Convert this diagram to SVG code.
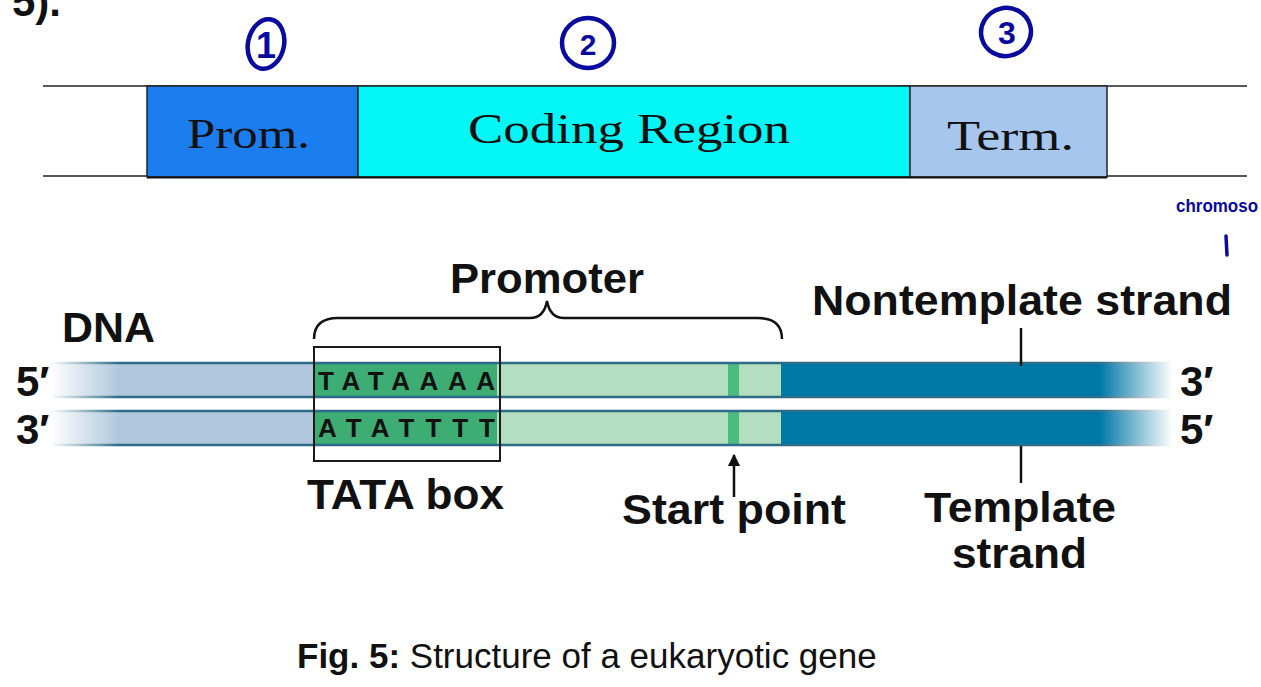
<svg xmlns="http://www.w3.org/2000/svg" width="1261" height="687" viewBox="0 0 1261 687">
<style>
.serif{font-family:"Liberation Serif","Times New Roman",serif;font-size:42px;fill:#111}
.lbl{font-family:"Liberation Sans",Arial,sans-serif;font-weight:bold;font-size:42px;fill:#111}
.seq{font-family:"Liberation Sans",Arial,sans-serif;font-weight:bold;font-size:26px;fill:#111}
.hand{fill:none;stroke:#0A0A9E;stroke-width:4.5}
.handt{font-family:"Liberation Sans",Arial,sans-serif;font-weight:bold;fill:#0A0A9E}
.conn{stroke:#111;stroke-width:2.5;fill:none}
.outline{stroke:#2C6C86;stroke-width:2.5}
</style>
<defs>
<linearGradient id="fade" gradientUnits="userSpaceOnUse" x1="0" y1="0" x2="1261" y2="0">
<stop offset="0.040" stop-color="#000"/>
<stop offset="0.095" stop-color="#fff"/>
<stop offset="0.872" stop-color="#fff"/>
<stop offset="0.930" stop-color="#000"/>
</linearGradient>
<mask id="fm" maskUnits="userSpaceOnUse" x="0" y="0" width="1261" height="687">
<rect x="0" y="0" width="1261" height="687" fill="url(#fade)"/>
</mask>
<marker id="ah" viewBox="0 0 10 10" refX="9" refY="5" markerWidth="5" markerHeight="5" orient="auto" markerUnits="strokeWidth">
<path d="M0,0 L10,5 L0,10 z" fill="#111"/>
</marker>
</defs>
<rect width="1261" height="687" fill="#fff"/>

<text class="lbl" x="12" y="16" font-size="40">5).</text>

<g id="gene-bar">
<line x1="43" y1="86" x2="1247" y2="86" stroke="#222" stroke-width="1.5"/>
<line x1="43" y1="176" x2="1247" y2="176" stroke="#222" stroke-width="1.5"/>
<g id="prom">
<rect x="147" y="86" width="211" height="91" fill="#1C7EEE" stroke="#222" stroke-width="1.5"/>
<text class="serif" x="187" y="148" textLength="123" lengthAdjust="spacingAndGlyphs">Prom.</text>
</g>
<g id="coding">
<rect x="358" y="86" width="552" height="91" fill="#05F6F6" stroke="#222" stroke-width="1.5"/>
<text class="serif" x="468" y="143" textLength="322" lengthAdjust="spacingAndGlyphs">Coding Region</text>
</g>
<g id="term">
<rect x="910" y="86" width="197" height="91" fill="#A6C6EE" stroke="#222" stroke-width="1.5"/>
<text class="serif" x="947" y="150" textLength="127" lengthAdjust="spacingAndGlyphs">Term.</text>
</g>
<line x1="147" y1="177.5" x2="1107" y2="177.5" stroke="#111" stroke-width="2"/>
</g>

<g id="annotations">
<g id="n1">
<ellipse class="hand" cx="266" cy="44" rx="18" ry="25" transform="rotate(12 266 44)"/>
<text class="handt" x="266" y="58" font-size="36" text-anchor="middle">1</text>
</g>
<g id="n2">
<ellipse class="hand" cx="588" cy="43" rx="26" ry="25"/>
<text class="handt" x="588" y="55" font-size="30" text-anchor="middle">2</text>
</g>
<g id="n3">
<ellipse class="hand" cx="1006" cy="32" rx="25" ry="24" transform="rotate(-15 1006 32)"/>
<text class="handt" x="1007" y="44" font-size="32" text-anchor="middle">3</text>
</g>
<text class="handt" x="1176" y="212" font-size="18" textLength="82" lengthAdjust="spacingAndGlyphs">chromoso</text>
<line x1="1226" y1="236" x2="1227" y2="255" stroke="#0A0A9E" stroke-width="3.5" stroke-linecap="round"/>
</g>

<g id="dna" mask="url(#fm)">
<g id="top-strand">
<rect x="40" y="363" width="275" height="34" fill="#AFC6DD"/>
<rect x="315" y="363" width="182" height="34" fill="#3DAD74"/>
<rect x="497" y="363" width="284" height="34" fill="#B3DEC2"/>
<rect x="728" y="363" width="11" height="34" fill="#4CBB7E"/>
<rect x="781" y="363" width="400" height="34" fill="#0078A8"/>
<line class="outline" x1="40" y1="363" x2="1181" y2="363"/>
<line class="outline" x1="40" y1="397" x2="1181" y2="397"/>
</g>
<g id="bottom-strand">
<rect x="40" y="411" width="275" height="34" fill="#AFC6DD"/>
<rect x="315" y="411" width="182" height="34" fill="#3DAD74"/>
<rect x="497" y="411" width="284" height="34" fill="#B3DEC2"/>
<rect x="728" y="411" width="11" height="34" fill="#4CBB7E"/>
<rect x="781" y="411" width="400" height="34" fill="#0078A8"/>
<line class="outline" x1="40" y1="411" x2="1181" y2="411"/>
<line class="outline" x1="40" y1="445" x2="1181" y2="445"/>
</g>
</g>

<g id="tata-box">
<rect x="314" y="347" width="186" height="114" fill="none" stroke="#1a1a1a" stroke-width="2"/>
<text class="seq" x="318" y="390" textLength="177" lengthAdjust="spacing">TATAAAA</text>
<text class="seq" x="318" y="437" textLength="177" lengthAdjust="spacing">ATATTTT</text>
</g>

<g id="labels">
<text class="lbl" x="62" y="342" textLength="93" lengthAdjust="spacingAndGlyphs">DNA</text>
<text class="lbl" x="16" y="396">5′</text>
<text class="lbl" x="16" y="444">3′</text>
<text class="lbl" x="1180" y="396">3′</text>
<text class="lbl" x="1180" y="444">5′</text>
<text class="lbl" x="450" y="293" textLength="194" lengthAdjust="spacingAndGlyphs">Promoter</text>
<text class="lbl" x="812" y="315" textLength="420" lengthAdjust="spacingAndGlyphs">Nontemplate strand</text>
<text class="lbl" x="307" y="509" textLength="197" lengthAdjust="spacingAndGlyphs">TATA box</text>
<text class="lbl" x="622" y="524" textLength="224" lengthAdjust="spacingAndGlyphs">Start point</text>
<text class="lbl" x="924" y="522" textLength="192" lengthAdjust="spacingAndGlyphs">Template</text>
<text class="lbl" x="952" y="568" textLength="135" lengthAdjust="spacingAndGlyphs">strand</text>
</g>

<g id="connectors">
<path class="conn" d="M314,339 Q314,318 338,318 L530,318 Q544,318 547,301 Q550,318 564,318 L758,318 Q782,318 782,339"/>
<line class="conn" x1="1021" y1="328" x2="1021" y2="366"/>
<line class="conn" x1="1021" y1="446" x2="1021" y2="483"/>
<line class="conn" x1="734" y1="497" x2="734" y2="455" marker-end="url(#ah)"/>
</g>

<text x="297" y="668" font-family="'Liberation Sans',Arial,sans-serif" font-size="35" fill="#111"><tspan font-weight="bold">Fig. 5:</tspan> Structure of a eukaryotic gene</text>
</svg>
